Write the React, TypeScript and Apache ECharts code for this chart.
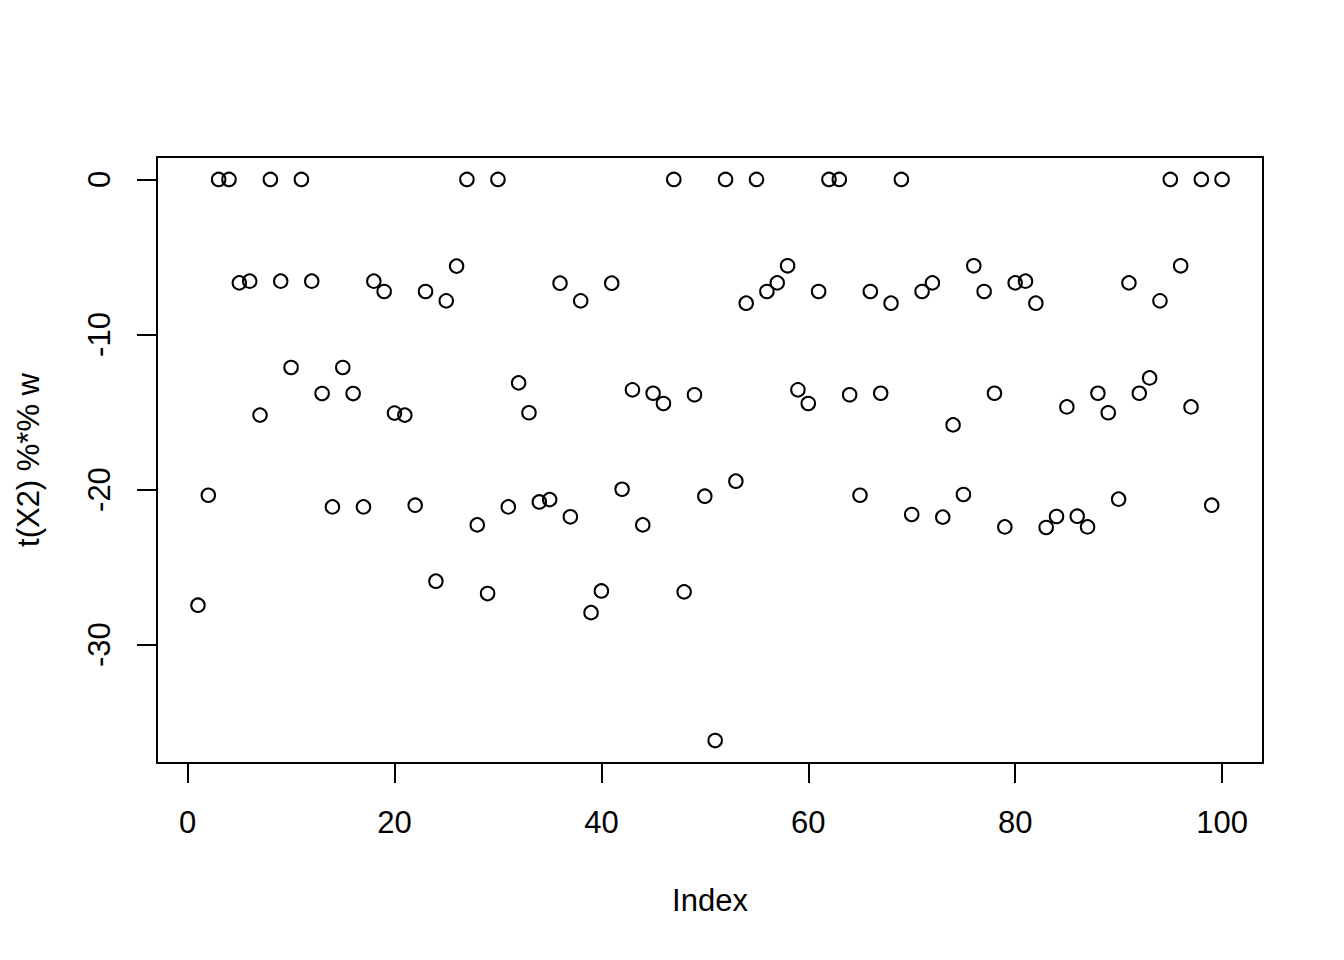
import React, { useEffect, useRef } from "react";
import * as echarts from "echarts";

const indexValues: number[] = Array.from({ length: 100 }, (_, i) => i + 1);

const yValues: number[] = [
  -27.46, -20.37, 0, 0, -6.67, -6.56, -15.2, 0, -6.56, -12.13,
  0, -6.56, -13.81, -21.12, -12.13, -13.81, -21.12, -6.56, -7.23, -15.07,
  -15.2, -21.01, -7.23, -25.91, -7.83, -5.59, 0, -22.28, -26.71, 0,
  -21.12, -13.12, -15.05, -20.8, -20.65, -6.69, -21.76, -7.83, -27.94, -26.54,
  -6.69, -19.98, -13.57, -22.28, -13.79, -14.45, 0, -26.6, -13.89, -20.43,
  -36.19, 0, -19.46, -7.98, 0, -7.23, -6.67, -5.57, -13.57, -14.45,
  -7.23, 0, 0, -13.89, -20.37, -7.23, -13.79, -7.98, 0, -21.61,
  -7.23, -6.67, -21.78, -15.83, -20.32, -5.57, -7.23, -13.79, -22.41, -6.67,
  -6.56, -7.98, -22.45, -21.74, -14.67, -21.72, -22.41, -13.79, -15.05, -20.62,
  -6.67, -13.79, -12.8, -7.83, 0, -5.57, -14.67, 0, -21.01, 0,
];

const xTicks: number[] = [0, 20, 40, 60, 80, 100];
const yTicks: number[] = [-30, -20, -10, 0];

const xTitle = "Index";
const yTitle = "t(X2) %*% w";

const FONT = "'Liberation Sans', Arial, Helvetica, sans-serif";

export default function App() {
  const ref = useRef<HTMLDivElement>(null);

  useEffect(() => {
    if (!ref.current) return;
    const chart = echarts.init(ref.current, null, { renderer: "svg" });

    const xMin = 1, xMax = 100;
    const xPad = (xMax - xMin) * 0.04;
    const yMinD = Math.min(...yValues), yMaxD = Math.max(...yValues);
    const yPad = (yMaxD - yMinD) * 0.04;

    const data = indexValues.map((x, i) => [x, yValues[i]]);

    chart.setOption({
      animation: false,
      backgroundColor: "#ffffff",
      grid: {
        left: 157,
        top: 157,
        width: 1106,
        height: 606,
        show: true,
        borderColor: "#000",
        borderWidth: 2,
        backgroundColor: "transparent",
        containLabel: false,
      },
      xAxis: {
        type: "value",
        position: "bottom",
        min: xMin - xPad,
        max: xMax + xPad,
        axisLine: { show: false, onZero: false },
        splitLine: { show: false },
        axisTick: {
          show: true,
          inside: false,
          length: 20,
          customValues: xTicks,
          lineStyle: { color: "#000", width: 2 },
        },
        axisLabel: {
          show: true,
          customValues: xTicks,
          margin: 44,
          color: "#000",
          fontSize: 31,
          fontFamily: FONT,
        },
      },
      yAxis: {
        type: "value",
        position: "left",
        min: yMinD - yPad,
        max: yMaxD + yPad,
        axisLine: { show: false, onZero: false },
        splitLine: { show: false },
        axisTick: {
          show: true,
          inside: false,
          length: 20,
          customValues: yTicks,
          lineStyle: { color: "#000", width: 2 },
        },
        axisLabel: {
          show: true,
          customValues: yTicks,
          rotate: 90,
          margin: 42,
          color: "#000",
          fontSize: 31,
          fontFamily: FONT,
        },
      },
      graphic: [
        {
          type: "text",
          x: 710,
          y: 900,
          style: {
            text: xTitle,
            fill: "#000",
            font: `31px ${FONT}`,
            align: "center",
            verticalAlign: "middle",
          },
        },
        {
          type: "text",
          x: 28,
          y: 460,
          rotation: Math.PI / 2,
          style: {
            text: yTitle,
            fill: "#000",
            font: `31px ${FONT}`,
            align: "center",
            verticalAlign: "middle",
          },
        },
      ],
      series: [
        {
          type: "scatter",
          data,
          symbol: "circle",
          symbolSize: 13.5,
          itemStyle: {
            color: "rgba(0,0,0,0)",
            borderColor: "#000",
            borderWidth: 2,
            opacity: 1,
          },
        },
      ],
    });

    return () => chart.dispose();
  }, []);

  return (
    <div
      ref={ref}
      style={{ position: "absolute", left: 0, top: 0, width: 1344, height: 960 }}
    />
  );
}
